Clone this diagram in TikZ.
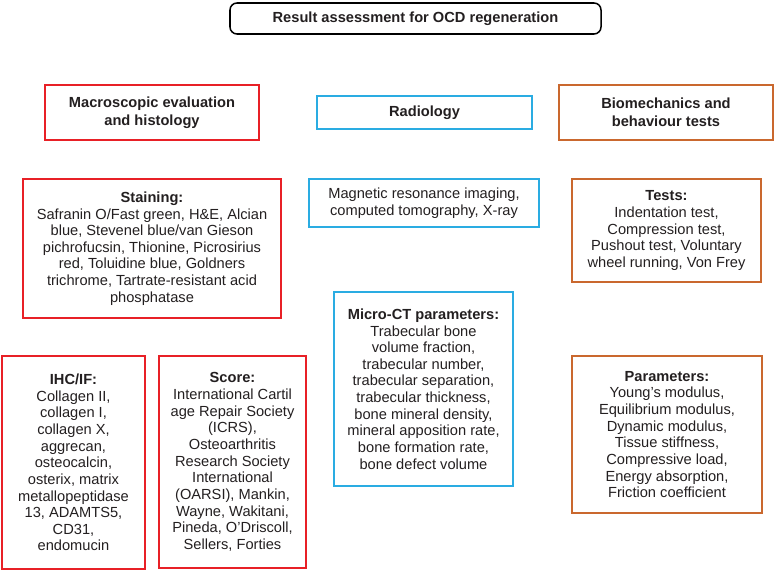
\documentclass[tikz,border=0pt]{standalone}
\usepackage{fontspec}
\setmainfont{Liberation Sans}
\usepackage{tikz}
\usetikzlibrary{positioning}

\definecolor{histred}{RGB}{232,32,38}
\definecolor{radioblue}{RGB}{42,172,226}
\definecolor{mechorange}{RGB}{202,104,46}
\definecolor{inkgray}{RGB}{35,31,32}

\begin{document}
\begin{tikzpicture}[
    x=0.03cm, y=-0.03cm,
    every node/.style={text=inkgray, font=\fontsize{12.5}{14.2}\selectfont},
    box/.style={rectangle, draw, line width=1.3pt, align=center, inner sep=2pt},
    histbox/.style={box, draw=histred},
    radiobox/.style={box, draw=radioblue},
    mechbox/.style={box, draw=mechorange},
    head/.style={font=\fontsize{12.5}{15}\selectfont\bfseries}
]
    \useasboundingbox (0,0) rectangle (775,572);

    % === Title ===
    \node[box, draw=black, rounded corners=6pt, head, minimum width=11.13cm, minimum height=0.93cm]
        (title) at (415.5,18.5) {Result assessment for OCD regeneration};

    % === Category headers ===
    \node[histbox, head, minimum width=6.42cm, minimum height=1.65cm]
        (macro) at (152,112.5) {Macroscopic evaluation\\and histology};
    \node[radiobox, head, minimum width=6.45cm, minimum height=0.99cm]
        (radio) at (424.5,112.5) {Radiology};
    \node[mechbox, head, minimum width=6.42cm, minimum height=1.65cm]
        (biomech) at (666,112.5) {Biomechanics and\\behaviour tests};

    % === Histology ===
    \node[histbox, minimum width=7.74cm, minimum height=4.17cm] (staining) at (152,248.5) {
        \textbf{Staining:}\\
        Safranin O/Fast green, H\&E, Alcian\\
        blue, Stevenel blue/van Gieson\\
        pichrofucsin, Thionine, Picrosirius\\
        red, Toluidine blue, Goldners\\
        trichrome, Tartrate-resistant acid\\
        phosphatase};
    \node[histbox, minimum width=4.29cm, minimum height=6.39cm] (ihc) at (73.5,462.5) {
        \textbf{IHC/IF:}\\
        Collagen II,\\
        collagen I,\\
        collagen X,\\
        aggrecan,\\
        osteocalcin,\\
        osterix, matrix\\
        metallopeptidase\\
        13, ADAMTS5,\\
        CD31,\\
        endomucin};
    \node[histbox, minimum width=4.41cm, minimum height=6.36cm] (score) at (232.5,462) {
        \textbf{Score:}\\
        International Cartil\\
        age Repair Society\\
        (ICRS),\\
        Osteoarthritis\\
        Research Society\\
        International\\
        (OARSI), Mankin,\\
        Wayne, Wakitani,\\
        Pineda, O’Driscoll,\\
        Sellers, Forties};

    % === Radiology ===
    \node[radiobox, minimum width=6.9cm, minimum height=1.44cm] (imaging) at (424,203) {
        Magnetic resonance imaging,\\
        computed tomography, X-ray};
    \node[radiobox, minimum width=5.37cm, minimum height=5.82cm] (microct) at (423.5,389) {
        \textbf{Micro-CT parameters:}\\
        Trabecular bone\\
        volume fraction,\\
        trabecular number,\\
        trabecular separation,\\
        trabecular thickness,\\
        bone mineral density,\\
        mineral apposition rate,\\
        bone formation rate,\\
        bone defect volume};

    % === Biomechanics ===
    \node[mechbox, minimum width=5.67cm, minimum height=3.09cm] (tests) at (666.5,230.5) {
        \textbf{Tests:}\\
        Indentation test,\\
        Compression test,\\
        Pushout test, Voluntary\\
        wheel running, Von Frey};
    \node[mechbox, minimum width=5.7cm, minimum height=4.71cm] (params) at (667,434.5) {
        \textbf{Parameters:}\\
        Young’s modulus,\\
        Equilibrium modulus,\\
        Dynamic modulus,\\
        Tissue stiffness,\\
        Compressive load,\\
        Energy absorption,\\
        Friction coefficient};

\end{tikzpicture}
\end{document}
